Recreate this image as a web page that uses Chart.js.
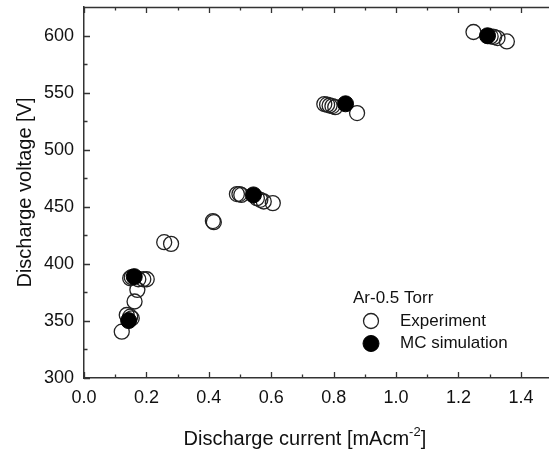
<!DOCTYPE html>
<html>
<head>
<meta charset="utf-8">
<script src="https://cdn.jsdelivr.net/npm/chart.js@4/dist/chart.umd.min.js"></script>
<style>
  html, body { margin: 0; padding: 0; background: #fff; }
</style>
</head>
<body>
<canvas id="chart" width="549" height="449"></canvas>
<script>
// Experiment (open circles): discharge current [mA/cm2], discharge voltage [V]
const expCurrent = [0.121, 0.137, 0.148, 0.153, 0.162, 0.171,
                    0.148, 0.153, 0.174, 0.190, 0.201,
                    0.257, 0.279, 0.413, 0.416,
                    0.490, 0.498, 0.504, 0.554, 0.565, 0.576, 0.605,
                    0.770, 0.779, 0.787, 0.796, 0.805, 0.875,
                    1.248, 1.303, 1.314, 1.325, 1.355];
const expVoltage = [340.6, 355.2, 353.7, 352.3, 367.0, 377.2,
                    387.4, 388.3, 386.5, 386.5, 386.5,
                    419.0, 417.5, 437.5, 436.5,
                    461.1, 461.1, 460.4, 457.5, 456.1, 454.6, 453.2,
                    540.0, 539.4, 538.7, 538.2, 537.3, 532.1,
                    603.1, 599.2, 598.7, 597.8, 594.8];

// MC simulation (filled circles)
const mcCurrent = [0.143, 0.161, 0.543, 0.838, 1.293];
const mcVoltage = [350.3, 388.8, 460.4, 540.2, 599.8];

const xTicks = [0.0, 0.2, 0.4, 0.6, 0.8, 1.0, 1.2, 1.4];
const yTicks = [300, 350, 400, 450, 500, 550, 600];

const legendTitle = 'Ar-0.5 Torr';
const legendLabels = ['Experiment', 'MC simulation'];

const toPoints = (xs, ys) => xs.map((v, i) => ({x: v, y: ys[i]}));

const AXIS = '#333';
const FONT = '"Liberation Sans", Arial, sans-serif';

// frame top line + inward tick marks (major and minor)
const frameTicks = {
    id: 'frameTicks',
    afterDraw(chart) {
        const {ctx, chartArea: a, scales: {x, y}} = chart;
        ctx.save();
        ctx.strokeStyle = AXIS;
        ctx.lineWidth = 1.3;
        ctx.beginPath();
        ctx.moveTo(a.left, a.top + 0.5);
        ctx.lineTo(a.right, a.top + 0.5);
        const xStep = xTicks[1] - xTicks[0];
        for (let i = 0; ; i++) {
            const v = i * xStep / 2;
            if (v > x.max + 1e-9) break;
            const px = Math.round(x.getPixelForValue(v)) + 0.5;
            const len = i % 2 === 0 ? 6 : 3.5;
            ctx.moveTo(px, a.bottom); ctx.lineTo(px, a.bottom - len);
            ctx.moveTo(px, a.top); ctx.lineTo(px, a.top + len);
        }
        const yStep = yTicks[1] - yTicks[0];
        for (let i = 0; ; i++) {
            const v = yTicks[0] + i * yStep / 2;
            if (v > y.max + 1e-9) break;
            const py = Math.round(y.getPixelForValue(v)) + 0.5;
            const len = i % 2 === 0 ? 6 : 3.5;
            ctx.moveTo(a.left, py); ctx.lineTo(a.left + len, py);
        }
        ctx.stroke();

        // x title with superscript
        ctx.fillStyle = '#111';
        ctx.textBaseline = 'alphabetic';
        const main = 'Discharge current [mAcm';
        const sup = '-2';
        const end = ']';
        ctx.font = '20px ' + FONT;
        const w1 = ctx.measureText(main).width;
        const w3 = ctx.measureText(end).width;
        ctx.font = '13px ' + FONT;
        const w2 = ctx.measureText(sup).width;
        const total = w1 + w2 + w3;
        const cx = a.left + 0.475 * (a.right - a.left);
        let tx = cx - total / 2;
        const ty = 445;
        ctx.textAlign = 'left';
        ctx.font = '20px ' + FONT;
        ctx.fillText(main, tx, ty);
        ctx.font = '13px ' + FONT;
        ctx.fillText(sup, tx + w1, ty - 9);
        ctx.font = '20px ' + FONT;
        ctx.fillText(end, tx + w1 + w2, ty);
        ctx.restore();
    }
};

// legend inside the plot area
const insideLegend = {
    id: 'insideLegend',
    afterDraw(chart) {
        const {ctx} = chart;
        const lx = 353, ly = 298;
        ctx.save();
        ctx.fillStyle = '#111';
        ctx.font = '17px ' + FONT;
        ctx.textBaseline = 'middle';
        ctx.textAlign = 'left';
        ctx.fillText(legendTitle, lx, ly);
        chart.data.datasets.slice().reverse().forEach((ds, i) => {
            const yy = ly + 23 + i * 22.5;
            ctx.beginPath();
            ctx.arc(lx + 18, yy, ds.pointRadius, 0, Math.PI * 2);
            if (ds.backgroundColor !== 'rgba(0,0,0,0)') {
                ctx.fillStyle = ds.backgroundColor;
                ctx.fill();
            }
            ctx.strokeStyle = ds.borderColor;
            ctx.lineWidth = ds.borderWidth;
            ctx.stroke();
            ctx.fillStyle = '#111';
            ctx.fillText(ds.label, lx + 47, yy);
        });
        ctx.restore();
    }
};

new Chart(document.getElementById('chart').getContext('2d'), {
    type: 'scatter',
    data: {
        datasets: [
            {
                label: legendLabels[1],
                data: toPoints(mcCurrent, mcVoltage),
                pointRadius: 8,
                backgroundColor: '#000',
                borderColor: '#000',
                borderWidth: 1
            },
            {
                label: legendLabels[0],
                data: toPoints(expCurrent, expVoltage),
                pointRadius: 7.5,
                backgroundColor: 'rgba(0,0,0,0)',
                borderColor: '#222',
                borderWidth: 1.3
            }
        ]
    },
    options: {
        responsive: false,
        animation: false,
        layout: { autoPadding: false, padding: { top: 7, right: 0, left: 0, bottom: 0 } },
        plugins: { legend: { display: false }, tooltip: { enabled: false } },
        scales: {
            x: {
                type: 'linear',
                min: 0,
                max: 1.49,
                afterBuildTicks: s => { s.ticks = xTicks.map(v => ({value: v})); },
                afterFit: s => { s.height = 71; s.paddingLeft = 0; s.paddingRight = 0; },
                grid: { drawOnChartArea: false, drawTicks: false },
                border: { color: AXIS, width: 1.5 },
                ticks: {
                    padding: 9,
                    color: '#111',
                    font: { family: FONT, size: 18 },
                    callback: v => v.toFixed(1)
                }
            },
            y: {
                type: 'linear',
                min: 300,
                max: 625,
                afterBuildTicks: s => { s.ticks = yTicks.map(v => ({value: v})); },
                afterFit: s => { s.width = 84; s.paddingTop = 0; s.paddingBottom = 0; },
                grid: { drawOnChartArea: false, drawTicks: false },
                border: { color: AXIS, width: 1.5 },
                ticks: {
                    padding: 10,
                    color: '#111',
                    font: { family: FONT, size: 18 }
                },
                title: {
                    display: true,
                    text: 'Discharge voltage [V]',
                    color: '#111',
                    font: { family: FONT, size: 20 },
                    padding: { top: 13, bottom: 0 }
                }
            }
        }
    },
    plugins: [frameTicks, insideLegend]
});
</script>
</body>
</html>
